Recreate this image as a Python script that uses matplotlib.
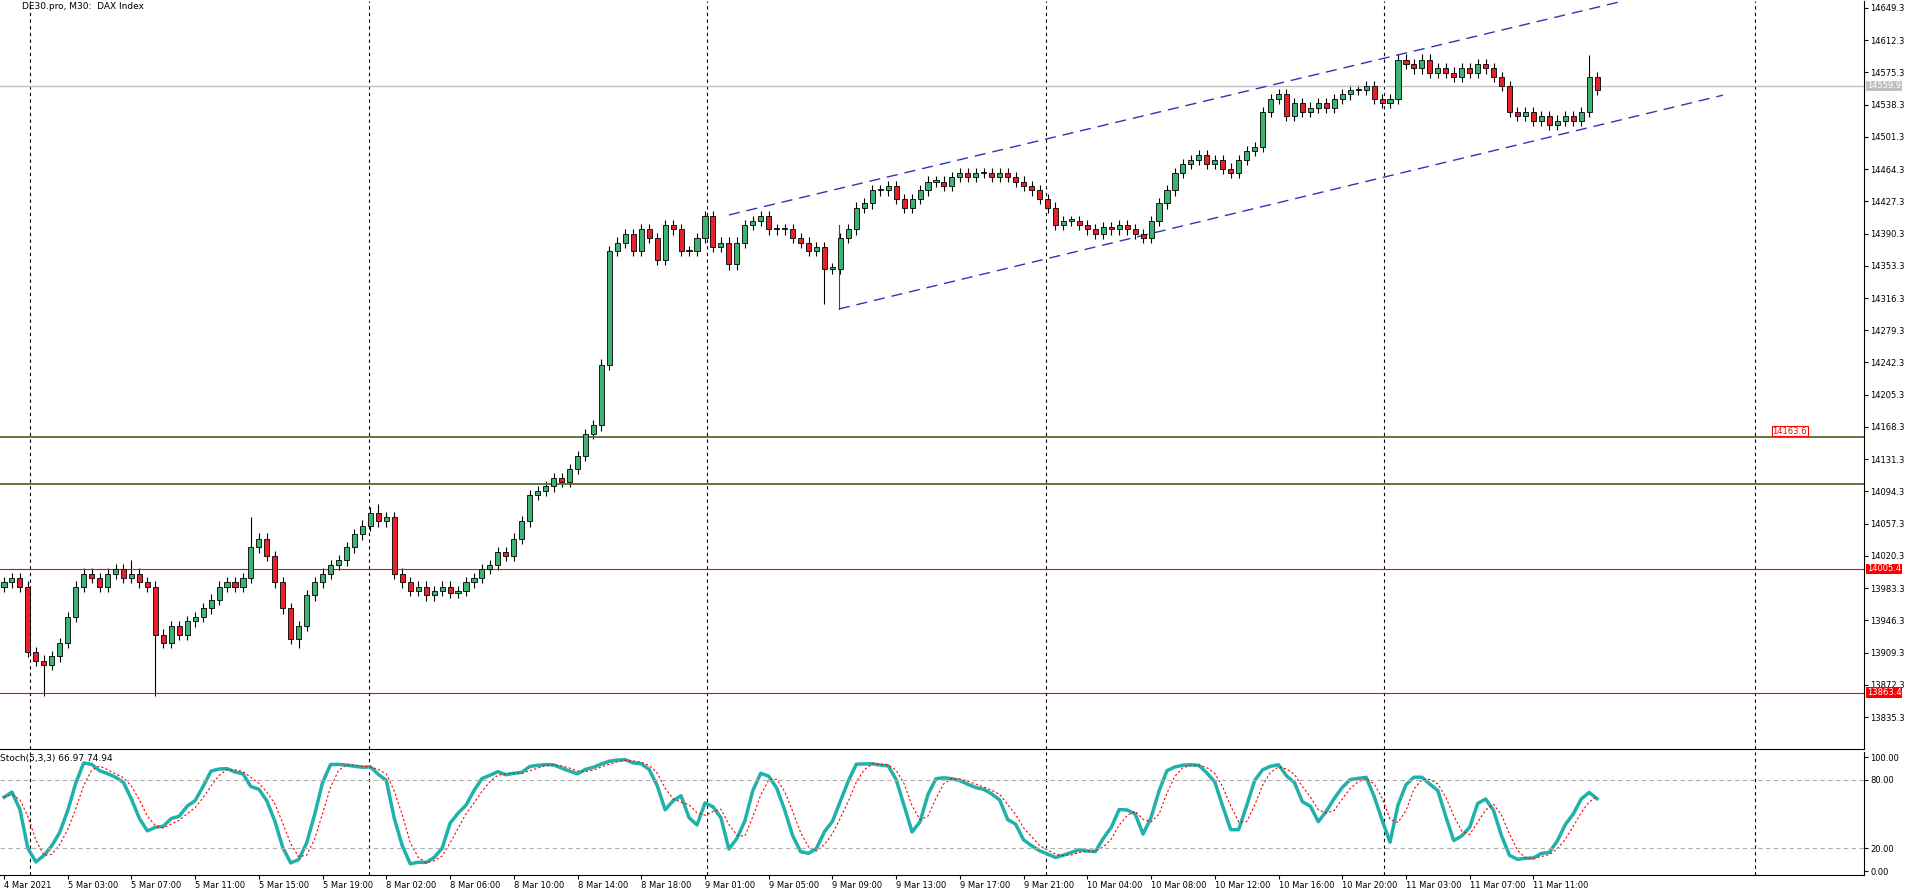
import matplotlib
matplotlib.use("Agg")
import matplotlib.pyplot as plt
import numpy as np

closes = [13990,13995,13985,13910,13900,13895,13905,13920,13950,13985,
14000,13995,13985,14000,14005,13995,14000,13990,13985,13930,
13920,13940,13930,13945,13950,13960,13970,13985,13990,13985,
13995,14030,14040,14020,13990,13960,13925,13940,13975,13990,
14000,14010,14015,14030,14045,14055,14070,14060,14065,14000,
13990,13980,13985,13975,13980,13985,13978,13980,13990,13995,
14005,14010,14025,14020,14040,14060,14090,14095,14100,14110,
14105,14120,14135,14160,14170,14240,14370,14380,14390,14370,
14395,14385,14360,14400,14395,14370,14370,14385,14410,14375,
14380,14355,14380,14400,14405,14410,14395,14395,14395,14385,
14380,14370,14375,14350,14350,14385,14395,14420,14425,14440,
14440,14445,14430,14420,14430,14440,14450,14450,14445,14455,
14460,14455,14460,14460,14455,14460,14455,14450,14445,14440,
14430,14420,14400,14405,14405,14400,14395,14390,14398,14395,
14400,14395,14390,14385,14405,14425,14440,14460,14470,14475,
14480,14470,14475,14465,14460,14475,14485,14490,14530,14545,
14550,14525,14540,14530,14535,14540,14535,14545,14550,14555,
14555,14560,14545,14540,14545,14590,14585,14580,14590,14575,
14580,14575,14570,14580,14575,14585,14580,14570,14560,14530,
14525,14530,14520,14525,14515,14520,14525,14520,14530,14570,
14555]
first_open = 13985
spikes = {19: (None, 13860), 16: (14015, None), 31: (14065, None), 47: (14080, None),
          103: (None, 14310), 199: (14595, None), 5: (None, 13860), 37: (None, 13915)}
time_labels = ["4 Mar 2021","5 Mar 03:00","5 Mar 07:00","5 Mar 11:00","5 Mar 15:00","5 Mar 19:00",
"8 Mar 02:00","8 Mar 06:00","8 Mar 10:00","8 Mar 14:00","8 Mar 18:00","9 Mar 01:00","9 Mar 05:00",
"9 Mar 09:00","9 Mar 13:00","9 Mar 17:00","9 Mar 21:00","10 Mar 04:00","10 Mar 08:00","10 Mar 12:00",
"10 Mar 16:00","10 Mar 20:00","11 Mar 03:00","11 Mar 07:00","11 Mar 11:00"]
day_sep = [3.3, 45.8, 88.3, 130.8, 173.3, 219.8]
price_ticks = [13835.3 + 37*i for i in range(23)]
upper_ch = ((91, 14411.7), (202.6, 14655.8))
lower_ch = ((104.8, 14303.7), (215.8, 14549.2))
anchor_seg = ((104.8, 14303.7), (104.8, 14400))
green_levels = [14156.5, 14103.2]
red_levels = [14005.4, 13863.4]
current_price = 14559.9
inside_label = 14163.6
stoch_values = (66.97, 74.94)

plt.rcParams['font.family'] = 'DejaVu Sans'
FS = 6

c = np.array(closes, float)
o = np.concatenate([[first_open], c[:-1]])
h = np.maximum(o, c) + 6
l = np.minimum(o, c) - 6
for k, (hh, ll) in spikes.items():
    if hh: h[k] = hh
    if ll: l[k] = ll
n = len(c)
x = np.arange(n)

hh5 = np.array([h[max(0,i-4):i+1].max() for i in range(n)])
ll5 = np.array([l[max(0,i-4):i+1].min() for i in range(n)])
num = np.array([np.sum((c-ll5)[max(0,i-2):i+1]) for i in range(n)])
den = np.array([np.sum((hh5-ll5)[max(0,i-2):i+1]) for i in range(n)])
K = 100*num/np.where(den == 0, 1, den)
D = np.array([K[max(0,i-2):i+1].mean() for i in range(n)])

fig = plt.figure(figsize=(19.11, 8.92), dpi=100)
W, H = 1911, 892
axr = 1864/W
ax = fig.add_axes([0, 1-749/H, axr, 748/H])
ax2 = fig.add_axes([0, 1-875/H, axr, 123/H], sharex=ax)

for i in range(n):
    up = c[i] >= o[i]
    col = '#3cb371' if up else '#e8202a'
    ax.vlines(x[i], l[i], h[i], color='black', lw=0.8, zorder=2)
    b0, b1 = min(o[i], c[i]), max(o[i], c[i])
    if b1 - b0 < 1.5: b1 = b0 + 1.5
    ax.add_patch(plt.Rectangle((x[i]-0.32, b0), 0.64, b1-b0, facecolor=col,
                               edgecolor='black', lw=0.6, zorder=3))

ax.set_ylim(13798.6, 14657.3)
ax.set_xlim(-0.5, 233.5)
for v in day_sep:
    ax.axvline(v, color='black', ls=(0, (3, 3)), lw=0.8)
    ax2.axvline(v, color='black', ls=(0, (3, 3)), lw=0.8)
ax.axhline(current_price, color='#c0c0c0', lw=1)
for g in green_levels:
    ax.axhline(g, color='#556b2f', lw=1.3)
for r in red_levels:
    ax.axhline(r, color='red', lw=0.8)
for seg in (upper_ch, lower_ch):
    ax.plot([seg[0][0], seg[1][0]], [seg[0][1], seg[1][1]], color='#3333bb', lw=1, ls=(0, (8, 5)))
ax.plot(*zip(*anchor_seg), color='#3333bb', lw=0.8)

ax.yaxis.tick_right()
ax.set_yticks(price_ticks)
ax.set_yticklabels([f"{p:.1f}" for p in price_ticks], fontsize=FS)
ax.tick_params(axis='y', length=3, pad=1.5)
ax.tick_params(axis='x', bottom=False, labelbottom=False)
def tag(axis, y, txt, bg, fg):
    axis.annotate(txt, xy=(1.0, y), xycoords=('axes fraction', 'data'), xytext=(2, 0),
                  textcoords='offset points', fontsize=FS, color=fg, va='center', ha='left',
                  bbox=dict(boxstyle='square,pad=0.1', fc=bg, ec='none'), annotation_clip=False)
tag(ax, current_price, f"{current_price:.1f}", '#c0c0c0', 'white')
for r in red_levels:
    tag(ax, r, f"{r:.1f}", 'red', 'white')
ax.text(222, inside_label, f"{inside_label:.1f}", fontsize=FS, color='red', va='center', ha='left',
        bbox=dict(boxstyle='square,pad=0.1', fc='white', ec='red', lw=0.8))
ax.text(0.012, 0.998, "DE30.pro, M30:  DAX Index", transform=ax.transAxes, fontsize=6.5,
        va='top', ha='left')
for s in ['top', 'left']:
    ax.spines[s].set_visible(False); ax2.spines[s].set_visible(False)

ax2.plot(x, K, color='#20b2aa', lw=2.5)
ax2.plot(x, D, color='red', lw=0.8, ls=(0, (2, 2)))
for lv in (80, 20):
    ax2.axhline(lv, color='#b0b0b0', lw=0.8, ls=(0, (4, 3)))
ax2.set_ylim(-3.5, 104.4)
ax2.yaxis.tick_right()
ax2.set_yticks([0, 20, 80, 100])
ax2.set_yticklabels(["0.00", "20.00", "80.00", "100.00"], fontsize=FS)
ax2.tick_params(axis='y', length=3, pad=1.5)
ax2.set_xticks(np.arange(len(time_labels))*8)
ax2.set_xticklabels(time_labels, fontsize=FS, ha='left')
ax2.tick_params(axis='x', length=3, pad=1)
ax2.text(0.0, 0.985, f"Stoch(5,3,3) {stoch_values[0]:.2f} {stoch_values[1]:.2f}", transform=ax2.transAxes,
         fontsize=6.5, va='top', ha='left')

fig.savefig("out.png", dpi=100)
